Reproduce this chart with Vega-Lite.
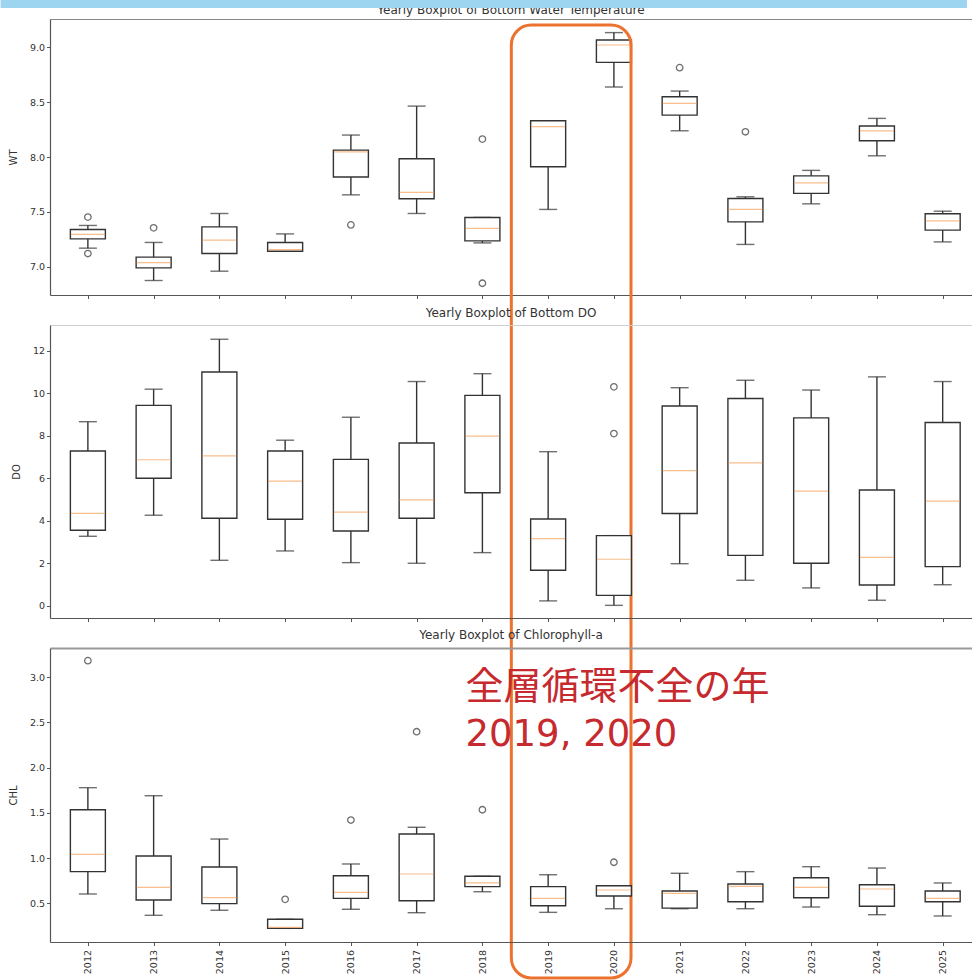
{
  "$schema": "https://vega.github.io/schema/vega-lite/v6.json",
  "padding": 0,
  "background": "white",
  "bounds": "flush",
  "spacing": 30,
  "config": {
    "view": {"stroke": null},
    "font": "DejaVu Sans",
    "axis": {
      "grid": false,
      "domainColor": "#555",
      "domainWidth": 1.2,
      "tickColor": "#555",
      "tickSize": 3.5,
      "tickWidth": 1,
      "labelFont": "DejaVu Sans",
      "labelFontSize": 9.5,
      "labelColor": "#333",
      "labelPadding": 2,
      "titleFont": "DejaVu Sans",
      "titleFontSize": 10,
      "titleFontWeight": "normal",
      "titleColor": "#333",
      "titlePadding": 11
    },
    "title": {"font": "DejaVu Sans", "fontSize": 12, "fontWeight": "normal", "color": "#333", "frame": "group", "anchor": "middle"}
  },
  "datasets": {
    "stats": [
      {"param": "WT", "year": 2012, "lower": 7.169, "q1": 7.254, "median": 7.294, "q3": 7.339, "upper": 7.376},
      {"param": "WT", "year": 2013, "lower": 6.874, "q1": 6.989, "median": 7.038, "q3": 7.087, "upper": 7.221},
      {"param": "WT", "year": 2014, "lower": 6.959, "q1": 7.12, "median": 7.242, "q3": 7.363, "upper": 7.485},
      {"param": "WT", "year": 2015, "lower": 7.141, "q1": 7.141, "median": 7.155, "q3": 7.221, "upper": 7.299},
      {"param": "WT", "year": 2016, "lower": 7.655, "q1": 7.817, "median": 8.047, "q3": 8.063, "upper": 8.2},
      {"param": "WT", "year": 2017, "lower": 7.485, "q1": 7.619, "median": 7.677, "q3": 7.984, "upper": 8.464},
      {"param": "WT", "year": 2018, "lower": 7.217, "q1": 7.235, "median": 7.349, "q3": 7.449, "upper": 7.449},
      {"param": "WT", "year": 2019, "lower": 7.522, "q1": 7.911, "median": 8.276, "q3": 8.33, "upper": 8.33},
      {"param": "WT", "year": 2020, "lower": 8.638, "q1": 8.863, "median": 9.021, "q3": 9.067, "upper": 9.134},
      {"param": "WT", "year": 2021, "lower": 8.239, "q1": 8.382, "median": 8.489, "q3": 8.549, "upper": 8.601},
      {"param": "WT", "year": 2022, "lower": 7.203, "q1": 7.409, "median": 7.522, "q3": 7.622, "upper": 7.637},
      {"param": "WT", "year": 2023, "lower": 7.573, "q1": 7.668, "median": 7.765, "q3": 7.828, "upper": 7.878},
      {"param": "WT", "year": 2024, "lower": 8.011, "q1": 8.148, "median": 8.239, "q3": 8.282, "upper": 8.352},
      {"param": "WT", "year": 2025, "lower": 7.226, "q1": 7.333, "median": 7.418, "q3": 7.482, "upper": 7.506},
      {"param": "DO", "year": 2012, "lower": 3.28, "q1": 3.56, "median": 4.36, "q3": 7.29, "upper": 8.67},
      {"param": "DO", "year": 2013, "lower": 4.27, "q1": 6.01, "median": 6.88, "q3": 9.44, "upper": 10.2},
      {"param": "DO", "year": 2014, "lower": 2.15, "q1": 4.13, "median": 7.06, "q3": 11.01, "upper": 12.55},
      {"param": "DO", "year": 2015, "lower": 2.59, "q1": 4.08, "median": 5.87, "q3": 7.29, "upper": 7.8},
      {"param": "DO", "year": 2016, "lower": 2.04, "q1": 3.53, "median": 4.42, "q3": 6.9, "upper": 8.88},
      {"param": "DO", "year": 2017, "lower": 2.01, "q1": 4.13, "median": 4.99, "q3": 7.67, "upper": 10.56},
      {"param": "DO", "year": 2018, "lower": 2.51, "q1": 5.33, "median": 7.99, "q3": 9.91, "upper": 10.93},
      {"param": "DO", "year": 2019, "lower": 0.24, "q1": 1.68, "median": 3.17, "q3": 4.09, "upper": 7.26},
      {"param": "DO", "year": 2020, "lower": 0.03, "q1": 0.5, "median": 2.2, "q3": 3.31, "upper": 3.31},
      {"param": "DO", "year": 2021, "lower": 1.99, "q1": 4.35, "median": 6.37, "q3": 9.41, "upper": 10.27},
      {"param": "DO", "year": 2022, "lower": 1.21, "q1": 2.38, "median": 6.73, "q3": 9.76, "upper": 10.62},
      {"param": "DO", "year": 2023, "lower": 0.85, "q1": 2.01, "median": 5.4, "q3": 8.85, "upper": 10.16},
      {"param": "DO", "year": 2024, "lower": 0.27, "q1": 0.99, "median": 2.29, "q3": 5.46, "upper": 10.78},
      {"param": "DO", "year": 2025, "lower": 1.0, "q1": 1.85, "median": 4.93, "q3": 8.63, "upper": 10.56},
      {"param": "CHL", "year": 2012, "lower": 0.603, "q1": 0.85, "median": 1.042, "q3": 1.535, "upper": 1.779},
      {"param": "CHL", "year": 2013, "lower": 0.367, "q1": 0.537, "median": 0.677, "q3": 1.023, "upper": 1.69},
      {"param": "CHL", "year": 2014, "lower": 0.423, "q1": 0.496, "median": 0.562, "q3": 0.902, "upper": 1.211},
      {"param": "CHL", "year": 2015, "lower": 0.223, "q1": 0.223, "median": 0.234, "q3": 0.323, "upper": 0.323},
      {"param": "CHL", "year": 2016, "lower": 0.434, "q1": 0.555, "median": 0.622, "q3": 0.805, "upper": 0.935},
      {"param": "CHL", "year": 2017, "lower": 0.396, "q1": 0.529, "median": 0.824, "q3": 1.267, "upper": 1.341},
      {"param": "CHL", "year": 2018, "lower": 0.628, "q1": 0.684, "median": 0.725, "q3": 0.799, "upper": 0.799},
      {"param": "CHL", "year": 2019, "lower": 0.4, "q1": 0.473, "median": 0.555, "q3": 0.684, "upper": 0.816},
      {"param": "CHL", "year": 2020, "lower": 0.44, "q1": 0.581, "median": 0.647, "q3": 0.695, "upper": 0.695},
      {"param": "CHL", "year": 2021, "lower": 0.44, "q1": 0.447, "median": 0.61, "q3": 0.636, "upper": 0.832},
      {"param": "CHL", "year": 2022, "lower": 0.44, "q1": 0.518, "median": 0.688, "q3": 0.713, "upper": 0.85},
      {"param": "CHL", "year": 2023, "lower": 0.459, "q1": 0.562, "median": 0.677, "q3": 0.783, "upper": 0.905},
      {"param": "CHL", "year": 2024, "lower": 0.374, "q1": 0.467, "median": 0.658, "q3": 0.706, "upper": 0.89},
      {"param": "CHL", "year": 2025, "lower": 0.36, "q1": 0.518, "median": 0.555, "q3": 0.636, "upper": 0.725}
    ],
    "outliers": [
      {"param": "WT", "year": 2012, "value": 7.452},
      {"param": "WT", "year": 2012, "value": 7.12},
      {"param": "WT", "year": 2013, "value": 7.354},
      {"param": "WT", "year": 2016, "value": 7.381},
      {"param": "WT", "year": 2018, "value": 8.163},
      {"param": "WT", "year": 2018, "value": 6.849},
      {"param": "WT", "year": 2021, "value": 8.814},
      {"param": "WT", "year": 2022, "value": 8.23},
      {"param": "DO", "year": 2020, "value": 10.31},
      {"param": "DO", "year": 2020, "value": 8.11},
      {"param": "CHL", "year": 2012, "value": 3.184},
      {"param": "CHL", "year": 2015, "value": 0.544},
      {"param": "CHL", "year": 2016, "value": 1.421},
      {"param": "CHL", "year": 2017, "value": 2.398},
      {"param": "CHL", "year": 2018, "value": 1.535},
      {"param": "CHL", "year": 2020, "value": 0.954}
    ]
  },
  "vconcat": [
    {
      "width": 922,
      "height": 276,
      "resolve": {"axis": {"x": "independent", "y": "independent"}},
      "layer": [
        {
          "data": {"name": "stats"},
          "transform": [{"filter": "datum.param === 'WT'"}],
          "mark": {"type": "rule", "stroke": "#333", "strokeWidth": 1.4},
          "encoding": {
            "x": {"field": "year", "type": "quantitative", "scale": {"domain": [2011.5, 2025.37]}, "axis": {"orient": "bottom", "values": [2012, 2013, 2014, 2015, 2016, 2017, 2018, 2019, 2020, 2021, 2022, 2023, 2024, 2025], "labels": false, "title": null}},
            "y": {"field": "lower", "type": "quantitative", "scale": {"domain": [6.742, 9.258]}, "axis": {"orient": "left", "title": "WT", "values": [7, 7.5, 8, 8.5, 9], "format": ".1f"}},
            "y2": {"field": "upper"}
          }
        },
        {
          "data": {"name": "stats"},
          "transform": [{"filter": "datum.param === 'WT'"}],
          "mark": {"type": "tick", "orient": "horizontal", "size": 18, "thickness": 1.4, "color": "#333"},
          "encoding": {
            "x": {"field": "year", "type": "quantitative", "scale": {"domain": [2011.5, 2025.37]}, "axis": {"orient": "top", "labels": false, "ticks": false, "title": null, "domainColor": "#888"}},
            "y": {"field": "lower", "type": "quantitative", "scale": {"domain": [6.742, 9.258]}, "axis": null}
          }
        },
        {
          "data": {"name": "stats"},
          "transform": [{"filter": "datum.param === 'WT'"}],
          "mark": {"type": "tick", "orient": "horizontal", "size": 18, "thickness": 1.4, "color": "#333"},
          "encoding": {
            "x": {"field": "year", "type": "quantitative", "scale": {"domain": [2011.5, 2025.37]}, "axis": null},
            "y": {"field": "upper", "type": "quantitative", "scale": {"domain": [6.742, 9.258]}, "axis": null}
          }
        },
        {
          "data": {"name": "stats"},
          "transform": [{"filter": "datum.param === 'WT'"}],
          "mark": {"type": "bar", "size": 35, "fill": "white", "stroke": "#333", "strokeWidth": 1.4},
          "encoding": {
            "x": {"field": "year", "type": "quantitative", "scale": {"domain": [2011.5, 2025.37]}, "axis": null},
            "y": {"field": "q1", "type": "quantitative", "scale": {"domain": [6.742, 9.258]}, "axis": null},
            "y2": {"field": "q3"}
          }
        },
        {
          "data": {"name": "stats"},
          "transform": [{"filter": "datum.param === 'WT'"}],
          "mark": {"type": "tick", "orient": "horizontal", "size": 34, "thickness": 1.2, "color": "#f5a35c"},
          "encoding": {
            "x": {"field": "year", "type": "quantitative", "scale": {"domain": [2011.5, 2025.37]}, "axis": null},
            "y": {"field": "median", "type": "quantitative", "scale": {"domain": [6.742, 9.258]}, "axis": null}
          }
        },
        {
          "data": {"name": "outliers"},
          "transform": [{"filter": "datum.param === 'WT'"}],
          "mark": {"type": "point", "shape": "circle", "filled": false, "size": 42, "stroke": "#333", "strokeWidth": 1.3},
          "encoding": {
            "x": {"field": "year", "type": "quantitative", "scale": {"domain": [2011.5, 2025.37]}, "axis": null},
            "y": {"field": "value", "type": "quantitative", "scale": {"domain": [6.742, 9.258]}, "axis": null}
          }
        },
        {
          "data": {"values": [{"title": "Yearly Boxplot of Bottom Water Temperature"}]},
          "mark": {"type": "text", "font": "DejaVu Sans", "fontSize": 12, "color": "#333", "align": "center", "baseline": "alphabetic", "clip": false},
          "encoding": {
            "x": {"datum": 2018.435, "type": "quantitative", "scale": {"domain": [2011.5, 2025.37]}, "axis": null},
            "y": {"datum": 9.304, "type": "quantitative", "scale": {"domain": [6.742, 9.258]}, "axis": null},
            "text": {"field": "title"}
          }
        },
        {
          "data": {"values": [{"band": "header"}]},
          "mark": {"type": "rect", "fill": "#9dd4ef", "clip": false},
          "encoding": {
            "x": {"datum": 2010.6726, "type": "quantitative", "scale": {"domain": [2011.5, 2025.37]}, "axis": null},
            "x2": {"datum": 2025.37},
            "y": {"datum": 9.431, "type": "quantitative", "scale": {"domain": [6.742, 9.258]}, "axis": null},
            "y2": {"datum": 9.358}
          }
        },
        {
          "data": {"values": [{"years": "2019-2020"}]},
          "mark": {"type": "rect", "fill": "transparent", "stroke": "#ec722f", "strokeWidth": 3, "cornerRadius": 20, "clip": false},
          "encoding": {
            "x": {"datum": 2018.44, "type": "quantitative", "scale": {"domain": [2011.5, 2025.37]}, "axis": null},
            "x2": {"datum": 2020.26},
            "y": {"datum": 9.2033, "type": "quantitative", "scale": {"domain": [6.742, 9.258]}, "axis": null},
            "y2": {"datum": 0.516}
          }
        }
      ]
    },
    {
      "width": 922,
      "height": 293,
      "title": {"text": "Yearly Boxplot of Bottom DO", "offset": 5},
      "resolve": {"axis": {"x": "independent", "y": "independent"}},
      "layer": [
        {
          "data": {"name": "stats"},
          "transform": [{"filter": "datum.param === 'DO'"}],
          "mark": {"type": "rule", "stroke": "#333", "strokeWidth": 1.4},
          "encoding": {
            "x": {"field": "year", "type": "quantitative", "scale": {"domain": [2011.5, 2025.37]}, "axis": {"orient": "bottom", "values": [2012, 2013, 2014, 2015, 2016, 2017, 2018, 2019, 2020, 2021, 2022, 2023, 2024, 2025], "labels": false, "title": null}},
            "y": {"field": "lower", "type": "quantitative", "scale": {"domain": [-0.565, 13.22]}, "axis": {"orient": "left", "title": "DO", "values": [0, 2, 4, 6, 8, 10, 12], "format": "d"}},
            "y2": {"field": "upper"}
          }
        },
        {
          "data": {"name": "stats"},
          "transform": [{"filter": "datum.param === 'DO'"}],
          "mark": {"type": "tick", "orient": "horizontal", "size": 18, "thickness": 1.4, "color": "#333"},
          "encoding": {
            "x": {"field": "year", "type": "quantitative", "scale": {"domain": [2011.5, 2025.37]}, "axis": {"orient": "top", "labels": false, "ticks": false, "title": null, "domainColor": "#cfcfcf"}},
            "y": {"field": "lower", "type": "quantitative", "scale": {"domain": [-0.565, 13.22]}, "axis": null}
          }
        },
        {
          "data": {"name": "stats"},
          "transform": [{"filter": "datum.param === 'DO'"}],
          "mark": {"type": "tick", "orient": "horizontal", "size": 18, "thickness": 1.4, "color": "#333"},
          "encoding": {
            "x": {"field": "year", "type": "quantitative", "scale": {"domain": [2011.5, 2025.37]}, "axis": null},
            "y": {"field": "upper", "type": "quantitative", "scale": {"domain": [-0.565, 13.22]}, "axis": null}
          }
        },
        {
          "data": {"name": "stats"},
          "transform": [{"filter": "datum.param === 'DO'"}],
          "mark": {"type": "bar", "size": 35, "fill": "white", "stroke": "#333", "strokeWidth": 1.4},
          "encoding": {
            "x": {"field": "year", "type": "quantitative", "scale": {"domain": [2011.5, 2025.37]}, "axis": null},
            "y": {"field": "q1", "type": "quantitative", "scale": {"domain": [-0.565, 13.22]}, "axis": null},
            "y2": {"field": "q3"}
          }
        },
        {
          "data": {"name": "stats"},
          "transform": [{"filter": "datum.param === 'DO'"}],
          "mark": {"type": "tick", "orient": "horizontal", "size": 34, "thickness": 1.2, "color": "#f5a35c"},
          "encoding": {
            "x": {"field": "year", "type": "quantitative", "scale": {"domain": [2011.5, 2025.37]}, "axis": null},
            "y": {"field": "median", "type": "quantitative", "scale": {"domain": [-0.565, 13.22]}, "axis": null}
          }
        },
        {
          "data": {"name": "outliers"},
          "transform": [{"filter": "datum.param === 'DO'"}],
          "mark": {"type": "point", "shape": "circle", "filled": false, "size": 42, "stroke": "#333", "strokeWidth": 1.3},
          "encoding": {
            "x": {"field": "year", "type": "quantitative", "scale": {"domain": [2011.5, 2025.37]}, "axis": null},
            "y": {"field": "value", "type": "quantitative", "scale": {"domain": [-0.565, 13.22]}, "axis": null}
          }
        }
      ]
    },
    {
      "width": 922,
      "height": 294,
      "title": {"text": "Yearly Boxplot of Chlorophyll-a", "offset": 6},
      "resolve": {"axis": {"x": "independent", "y": "independent"}},
      "layer": [
        {
          "data": {"name": "stats"},
          "transform": [{"filter": "datum.param === 'CHL'"}],
          "mark": {"type": "rule", "stroke": "#333", "strokeWidth": 1.4},
          "encoding": {
            "x": {"field": "year", "type": "quantitative", "scale": {"domain": [2011.5, 2025.37]}, "axis": {"orient": "bottom", "values": [2012, 2013, 2014, 2015, 2016, 2017, 2018, 2019, 2020, 2021, 2022, 2023, 2024, 2025], "format": "d", "labelAngle": -90, "labelPadding": 4, "title": null}},
            "y": {"field": "lower", "type": "quantitative", "scale": {"domain": [0.072, 3.324]}, "axis": {"orient": "left", "title": "CHL", "values": [0.5, 1, 1.5, 2, 2.5, 3], "format": ".1f"}},
            "y2": {"field": "upper"}
          }
        },
        {
          "data": {"name": "stats"},
          "transform": [{"filter": "datum.param === 'CHL'"}],
          "mark": {"type": "tick", "orient": "horizontal", "size": 18, "thickness": 1.4, "color": "#333"},
          "encoding": {
            "x": {"field": "year", "type": "quantitative", "scale": {"domain": [2011.5, 2025.37]}, "axis": {"orient": "top", "labels": false, "ticks": false, "title": null, "domainColor": "#999", "domainWidth": 2.2}},
            "y": {"field": "lower", "type": "quantitative", "scale": {"domain": [0.072, 3.324]}, "axis": null}
          }
        },
        {
          "data": {"name": "stats"},
          "transform": [{"filter": "datum.param === 'CHL'"}],
          "mark": {"type": "tick", "orient": "horizontal", "size": 18, "thickness": 1.4, "color": "#333"},
          "encoding": {
            "x": {"field": "year", "type": "quantitative", "scale": {"domain": [2011.5, 2025.37]}, "axis": null},
            "y": {"field": "upper", "type": "quantitative", "scale": {"domain": [0.072, 3.324]}, "axis": null}
          }
        },
        {
          "data": {"name": "stats"},
          "transform": [{"filter": "datum.param === 'CHL'"}],
          "mark": {"type": "bar", "size": 35, "fill": "white", "stroke": "#333", "strokeWidth": 1.4},
          "encoding": {
            "x": {"field": "year", "type": "quantitative", "scale": {"domain": [2011.5, 2025.37]}, "axis": null},
            "y": {"field": "q1", "type": "quantitative", "scale": {"domain": [0.072, 3.324]}, "axis": null},
            "y2": {"field": "q3"}
          }
        },
        {
          "data": {"name": "stats"},
          "transform": [{"filter": "datum.param === 'CHL'"}],
          "mark": {"type": "tick", "orient": "horizontal", "size": 34, "thickness": 1.2, "color": "#f5a35c"},
          "encoding": {
            "x": {"field": "year", "type": "quantitative", "scale": {"domain": [2011.5, 2025.37]}, "axis": null},
            "y": {"field": "median", "type": "quantitative", "scale": {"domain": [0.072, 3.324]}, "axis": null}
          }
        },
        {
          "data": {"name": "outliers"},
          "transform": [{"filter": "datum.param === 'CHL'"}],
          "mark": {"type": "point", "shape": "circle", "filled": false, "size": 42, "stroke": "#333", "strokeWidth": 1.3},
          "encoding": {
            "x": {"field": "year", "type": "quantitative", "scale": {"domain": [2011.5, 2025.37]}, "axis": null},
            "y": {"field": "value", "type": "quantitative", "scale": {"domain": [0.072, 3.324]}, "axis": null}
          }
        },
        {
          "data": {"values": [{"note": "全層循環不全の年"}]},
          "mark": {"type": "text", "font": "Noto Sans CJK JP", "fontSize": 38, "color": "#c62a2e", "align": "left", "baseline": "alphabetic", "clip": false},
          "encoding": {
            "x": {"datum": 2017.743, "type": "quantitative", "scale": {"domain": [2011.5, 2025.37]}, "axis": null},
            "y": {"datum": 2.765, "type": "quantitative", "scale": {"domain": [0.072, 3.324]}, "axis": null},
            "text": {"field": "note"}
          }
        },
        {
          "data": {"values": [{"note": "2019, 2020"}]},
          "mark": {"type": "text", "font": "DejaVu Sans", "fontSize": 37, "fontWeight": "normal", "color": "#c62a2e", "align": "left", "baseline": "alphabetic", "clip": false},
          "encoding": {
            "x": {"datum": 2017.743, "type": "quantitative", "scale": {"domain": [2011.5, 2025.37]}, "axis": null},
            "y": {"datum": 2.235, "type": "quantitative", "scale": {"domain": [0.072, 3.324]}, "axis": null},
            "text": {"field": "note"}
          }
        }
      ]
    }
  ]
}
